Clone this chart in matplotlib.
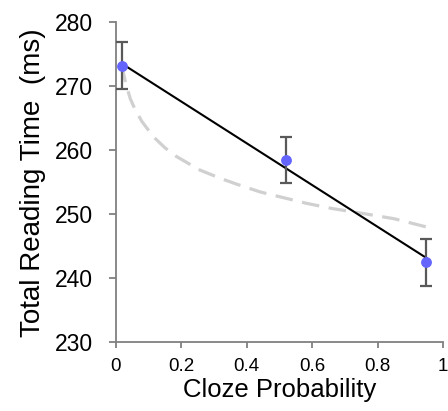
import matplotlib
matplotlib.use('Agg')
import matplotlib.pyplot as plt
import numpy as np

plt.rcParams['font.family'] = ['Liberation Sans', 'DejaVu Sans']

# observed means with error bars
cloze = [0.019, 0.52, 0.948]
rt_mean = [273.2, 258.4, 242.5]
rt_err = [3.7, 3.6, 3.7]

# linear fit line (end points)
lin_x = [0.019, 0.948]
lin_y = [273.5, 243.2]

# dashed grey curve
curve_x = [0.019, 0.03, 0.045, 0.059, 0.08, 0.115, 0.15, 0.186, 0.257, 0.32,
           0.369, 0.44, 0.471, 0.583, 0.66, 0.746, 0.85, 0.95]
curve_y = [273.3, 270.6, 268.0, 266.4, 264.5, 262.1, 260.4, 259.0, 256.9, 255.6,
           254.7, 253.5, 253.1, 251.7, 250.9, 250.2, 249.3, 248.0]

fig = plt.figure(figsize=(4.48, 4.11), dpi=100)
ax = fig.add_axes([0.258, 0.1667, 0.7315, 0.78])

ax.plot(curve_x, curve_y, color='#d0d0d0', lw=2.3, ls=(0, (5.5, 3)), zorder=1)
ax.plot(lin_x, lin_y, color='black', lw=1.5, zorder=2)
ax.errorbar(cloze, rt_mean, yerr=rt_err, fmt='none', ecolor='#595959',
            elinewidth=1.6, capsize=4, capthick=1.6, zorder=3)
ax.plot(cloze, rt_mean, 'o', color='#6464ff', ms=7.8, mec='none', zorder=4)

ax.set_xlim(0, 1)
ax.set_ylim(230, 280)
ax.set_xticks([0, 0.2, 0.4, 0.6, 0.8, 1])
ax.set_xticklabels(['0', '0.2', '0.4', '0.6', '0.8', '1'])
ax.set_yticks([230, 240, 250, 260, 270, 280])

for s in ['top', 'right']:
    ax.spines[s].set_visible(False)
for s in ['left', 'bottom']:
    ax.spines[s].set_color('#808080')
    ax.spines[s].set_linewidth(1.3)
ax.spines['bottom'].set_bounds(0, 1)

ax.tick_params(axis='y', direction='out', length=5, width=1.3, color='#808080',
               labelsize=16.5, pad=11)
ax.tick_params(axis='x', direction='out', length=4.5, width=1.3, color='#808080',
               labelsize=13.5, pad=7)

ax.set_xlabel('Cloze Probability', fontsize=18.5, labelpad=2)
ax.set_ylabel('Total Reading Time  (ms)', fontsize=20, labelpad=7)

for lab in ax.get_xticklabels():
    lab.set_clip_on(False)

fig.savefig('out.png', dpi=100)
